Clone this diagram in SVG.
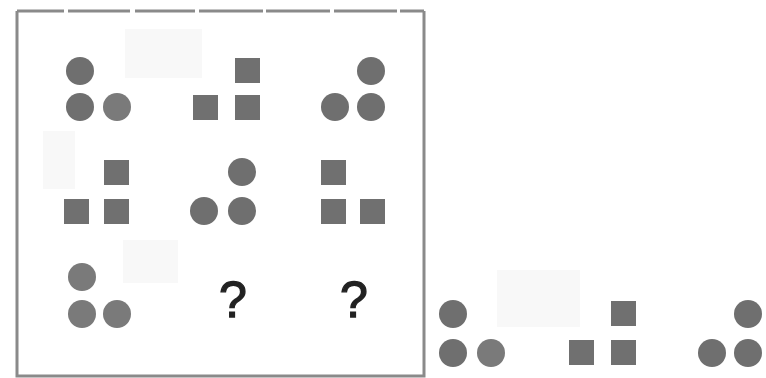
<svg xmlns="http://www.w3.org/2000/svg" width="766" height="378" viewBox="0 0 766 378">
<style>
.c{fill:#6f6f6f}
.cl{fill:#7a7a7a}
.s{fill:#707070}
.f{fill:#f8f8f8}
.q{font-family:"Liberation Sans",Arial,sans-serif;font-size:50px;font-weight:normal;fill:#222;stroke:#222;stroke-width:1.3;text-anchor:middle}
.frame{fill:none;stroke:#8a8a8a;stroke-width:3}
</style>
<rect width="766" height="378" fill="#fff"/>
<g id="faint">
<rect class="f" x="125" y="29" width="77" height="49"/>
<rect class="f" x="43" y="131" width="32" height="58"/>
<rect class="f" x="123" y="240" width="55" height="43"/>
<rect class="f" x="497" y="270" width="83" height="57"/>
</g>
<g id="frame">
<path class="frame" d="M17 11 V376 H424 V11"/>
<path class="frame" d="M17 11 H424" stroke-dasharray="47 4 62 5 60 4 64 3 64 4 63 3 40"/>
</g>
<g id="r1a"><circle class="c" cx="80" cy="71" r="14"/><circle class="c" cx="80" cy="107" r="14"/><circle class="cl" cx="117" cy="107" r="14"/></g>
<g id="r1b"><rect class="s" x="235" y="58" width="25" height="25"/><rect class="s" x="193" y="95" width="25" height="25"/><rect class="s" x="235" y="95" width="25" height="25"/></g>
<g id="r1c"><circle class="c" cx="371" cy="71" r="14"/><circle class="c" cx="335" cy="107" r="14"/><circle class="c" cx="371" cy="107" r="14"/></g>
<g id="r2a"><rect class="s" x="104" y="160" width="25" height="25"/><rect class="s" x="64" y="199" width="25" height="25"/><rect class="s" x="104" y="199" width="25" height="25"/></g>
<g id="r2b"><circle class="c" cx="242" cy="172" r="14"/><circle class="c" cx="204" cy="211" r="14"/><circle class="c" cx="242" cy="211" r="14"/></g>
<g id="r2c"><rect class="s" x="321" y="160" width="25" height="25"/><rect class="s" x="321" y="199" width="25" height="25"/><rect class="s" x="360" y="199" width="25" height="25"/></g>
<g id="r3a"><circle class="cl" cx="82" cy="277" r="14"/><circle class="cl" cx="82" cy="314" r="14"/><circle class="cl" cx="117" cy="314" r="14"/></g>
<g id="q1"><text class="q" x="233" y="317">?</text></g>
<g id="q2"><text class="q" x="354" y="317">?</text></g>
<g id="a1"><circle class="c" cx="453" cy="314" r="14"/><circle class="c" cx="453" cy="353" r="14"/><circle class="cl" cx="491" cy="353" r="14"/></g>
<g id="a2"><rect class="s" x="611" y="301" width="25" height="25"/><rect class="s" x="569" y="340" width="25" height="25"/><rect class="s" x="611" y="340" width="25" height="25"/></g>
<g id="a3"><circle class="c" cx="748" cy="314" r="14"/><circle class="c" cx="712" cy="353" r="14"/><circle class="c" cx="748" cy="353" r="14"/></g>
</svg>
